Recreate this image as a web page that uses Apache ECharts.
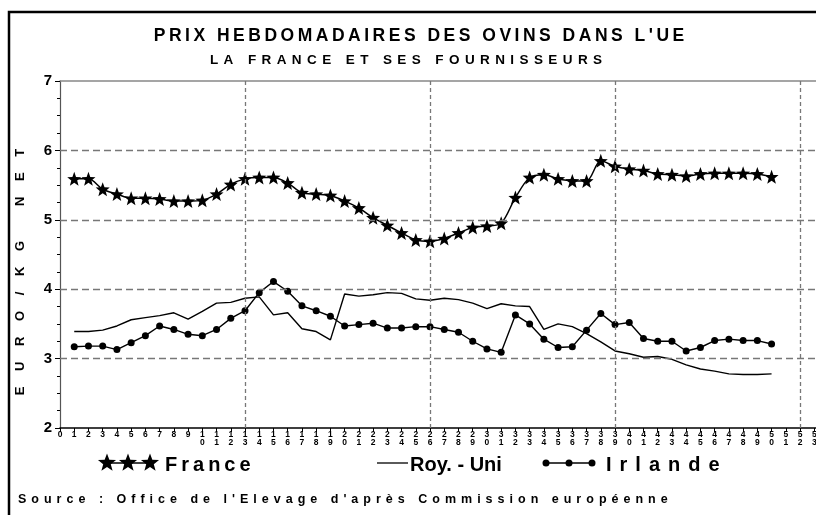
<!DOCTYPE html>
<html>
<head>
<meta charset="utf-8">
<script src="https://cdn.jsdelivr.net/npm/echarts@6/dist/echarts.min.js"></script>
<style>
  html, body { margin: 0; padding: 0; background: #fff; }
  #chart { width: 816px; height: 515px; }
</style>
</head>
<body>
<div id="chart"></div>
<script>
// semaines 1 à 50
const weeks = [1, 2, 3, 4, 5, 6, 7, 8, 9, 10, 11, 12, 13, 14, 15, 16, 17, 18, 19, 20,
  21, 22, 23, 24, 25, 26, 27, 28, 29, 30, 31, 32, 33, 34, 35, 36, 37, 38, 39, 40,
  41, 42, 43, 44, 45, 46, 47, 48, 49, 50]

const france = [5.59, 5.59, 5.44, 5.37, 5.31, 5.31, 5.30, 5.27, 5.27, 5.28,
  5.37, 5.51, 5.59, 5.61, 5.61, 5.53, 5.39, 5.37, 5.35, 5.27,
  5.17, 5.03, 4.92, 4.81, 4.71, 4.69, 4.73, 4.81, 4.89, 4.91,
  4.95, 5.32, 5.61, 5.65, 5.59, 5.56, 5.56, 5.85, 5.77, 5.73,
  5.71, 5.66, 5.65, 5.63, 5.66, 5.67, 5.67, 5.67, 5.66, 5.62]

const royUni = [3.39, 3.39, 3.41, 3.47, 3.56, 3.59, 3.62, 3.66, 3.57, 3.68,
  3.80, 3.81, 3.87, 3.89, 3.63, 3.66, 3.43, 3.39, 3.27, 3.93,
  3.90, 3.92, 3.95, 3.94, 3.86, 3.84, 3.87, 3.85, 3.80, 3.72,
  3.79, 3.76, 3.75, 3.42, 3.50, 3.46, 3.36, 3.24, 3.11, 3.07,
  3.02, 3.03, 2.99, 2.91, 2.85, 2.82, 2.78, 2.77, 2.77, 2.78]

const irlande = [3.17, 3.18, 3.18, 3.13, 3.23, 3.33, 3.47, 3.42, 3.35, 3.33,
  3.42, 3.58, 3.69, 3.95, 4.11, 3.97, 3.76, 3.69, 3.61, 3.47,
  3.49, 3.51, 3.44, 3.44, 3.46, 3.46, 3.42, 3.38, 3.25, 3.14,
  3.09, 3.63, 3.50, 3.28, 3.16, 3.17, 3.41, 3.65, 3.49, 3.52,
  3.29, 3.25, 3.25, 3.11, 3.16, 3.26, 3.28, 3.26, 3.26, 3.21]

const gridWeeks = [13, 26, 39, 52]
const gridLevels = [3, 4, 5, 6]

const FONT = '"Liberation Sans", Arial, sans-serif'
const THIN = '\u2009'
const spaced = (s, gap) => s.split('').join(gap || THIN)

const starPts = (cx, cy, r) => {
  const p = []
  for (let k = 0; k < 10; k++) {
    const a = -Math.PI / 2 + k * Math.PI / 5
    const rr = k % 2 ? r * 0.42 : r
    p.push([cx + rr * Math.cos(a), cy + rr * Math.sin(a)])
  }
  return p
}
const STAR = 'path://' + starPts(50, 50, 50).map((q, i) => (i ? 'L' : 'M') + q[0].toFixed(1) + ',' + q[1].toFixed(1)).join(' ') + ' Z'

const pairs = arr => weeks.map((w, i) => [w, arr[i]])

const chart = echarts.init(document.getElementById('chart'))

const option = {
  animation: false,
  backgroundColor: '#fff',
  grid: {
    left: 60,
    right: -12.5,
    top: 81,
    bottom: 87,
    containLabel: false,
    outerBoundsMode: 'none'
  },
  xAxis: [
    {
      type: 'value',
      min: 0,
      max: 54,
      interval: 1,
      axisLine: { lineStyle: { color: '#000', width: 1.5 } },
      axisTick: { length: 4, lineStyle: { color: '#000' } },
      axisLabel: {
        formatter: v => (v > 53 ? '' : String(v).split('').join('\n')),
        fontSize: 8.5,
        fontWeight: 'bold',
        lineHeight: 8,
        margin: 3,
        color: '#000',
        fontFamily: FONT,
        verticalAlign: 'top'
      },
      splitLine: { show: false }
    },
    {
      type: 'value',
      position: 'top',
      min: 0,
      max: 54,
      axisLine: { show: true, lineStyle: { color: '#888', width: 1.5 } },
      axisTick: { show: false },
      axisLabel: { show: false },
      splitLine: { show: false }
    }
  ],
  yAxis: {
    type: 'value',
    min: 2,
    max: 7,
    interval: 1,
    offset: 4,
    axisLine: { show: true, lineStyle: { color: '#555', width: 1.2 } },
    axisTick: { show: true, length: 5, lineStyle: { color: '#000' } },
    minorTick: { show: true, splitNumber: 4, length: 3, lineStyle: { color: '#000' } },
    axisLabel: { fontSize: 15, fontWeight: 'bold', color: '#000', margin: 4, fontFamily: FONT },
    splitLine: { show: false }
  },
  series: [
    {
      name: 'Roy. - Uni',
      type: 'line',
      data: pairs(royUni),
      symbol: 'none',
      lineStyle: { color: '#000', width: 1.4 },
      markLine: {
        silent: true,
        symbol: ['none', 'none'],
        label: { show: false },
        data: gridLevels.map(v => ({ yAxis: v, lineStyle: { color: '#777', width: 1.3, type: [7, 4] } }))
          .concat(gridWeeks.map(w => ({ xAxis: w, lineStyle: { color: '#777', width: 1.3, type: [4, 3] } })))
      }
    },
    {
      name: 'Irlande',
      type: 'line',
      data: pairs(irlande),
      symbol: 'circle',
      symbolSize: 7,
      itemStyle: { color: '#000' },
      lineStyle: { color: '#000', width: 1.4 }
    },
    {
      name: 'France',
      type: 'line',
      data: pairs(france),
      symbol: STAR,
      symbolSize: 14,
      smooth: 0.3,
      itemStyle: { color: '#000' },
      lineStyle: { color: '#000', width: 1.5 }
    }
  ],
  graphic: [
    // cadre
    { type: 'rect', shape: { x: 9, y: 12, width: 830, height: 530 }, style: { fill: null, stroke: '#000', lineWidth: 2.5 } },
    // titres
    {
      type: 'text', x: 419, y: 36,
      style: { text: spaced("PRIX HEBDOMADAIRES DES OVINS DANS L'UE"), font: 'bold 17.5px ' + FONT, fill: '#000', align: 'center', verticalAlign: 'middle' }
    },
    {
      type: 'text', x: 406, y: 60,
      style: { text: spaced('LA FRANCE ET SES FOURNISSEURS', THIN + THIN), font: 'bold 13.5px ' + FONT, fill: '#000', align: 'center', verticalAlign: 'middle' }
    },
    // titre axe Y
    {
      type: 'text', x: 20, y: 272, rotation: Math.PI / 2,
      style: { text: spaced('EURO/KG NET', '\u2003' + THIN), font: 'bold 13px ' + FONT, fill: '#000', align: 'center', verticalAlign: 'middle' }
    },
    // légende France
    { type: 'line', shape: { x1: 107, y1: 463, x2: 150, y2: 463 }, style: { stroke: '#000', lineWidth: 1.5 } },
    { type: 'polygon', shape: { points: starPts(107, 463, 9.5) }, style: { fill: '#000' } },
    { type: 'polygon', shape: { points: starPts(128, 463, 9.5) }, style: { fill: '#000' } },
    { type: 'polygon', shape: { points: starPts(150, 463, 9.5) }, style: { fill: '#000' } },
    {
      type: 'text', x: 165, y: 465,
      style: { text: spaced('France'), font: 'bold 20px ' + FONT, fill: '#000', align: 'left', verticalAlign: 'middle' }
    },
    // légende Royaume-Uni
    { type: 'line', shape: { x1: 377, y1: 463, x2: 408, y2: 463 }, style: { stroke: '#000', lineWidth: 1.3 } },
    {
      type: 'text', x: 410, y: 465,
      style: { text: 'Roy. - Uni', font: 'bold 20px ' + FONT, fill: '#000', align: 'left', verticalAlign: 'middle' }
    },
    // légende Irlande
    { type: 'line', shape: { x1: 546, y1: 463, x2: 592, y2: 463 }, style: { stroke: '#000', lineWidth: 1.3 } },
    { type: 'circle', shape: { cx: 546, cy: 463, r: 3.5 }, style: { fill: '#000' } },
    { type: 'circle', shape: { cx: 569, cy: 463, r: 3.5 }, style: { fill: '#000' } },
    { type: 'circle', shape: { cx: 592, cy: 463, r: 3.5 }, style: { fill: '#000' } },
    {
      type: 'text', x: 606, y: 465,
      style: { text: spaced('Irlande', THIN + THIN), font: 'bold 20px ' + FONT, fill: '#000', align: 'left', verticalAlign: 'middle' }
    },
    // source
    {
      type: 'text', x: 18, y: 500,
      style: { text: spaced("Source : Office de l'Elevage d'après Commission européenne", THIN + THIN), font: 'bold 12.5px ' + FONT, fill: '#000', align: 'left', verticalAlign: 'middle' }
    }
  ]
}

chart.setOption(option)

window.addEventListener('resize', () => {
  chart && chart.resize()
})
</script>
</body>
</html>
